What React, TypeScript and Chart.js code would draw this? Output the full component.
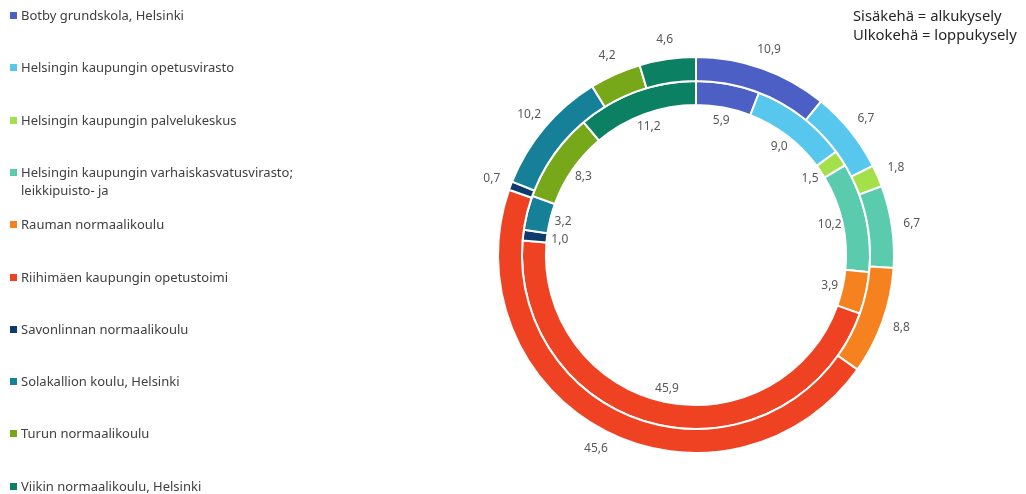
import React, { useEffect, useRef } from "react";
import { Chart, registerables } from "chart.js";

Chart.register(...registerables);

const categories = [
  "Botby grundskola, Helsinki",
  "Helsingin kaupungin opetusvirasto",
  "Helsingin kaupungin palvelukeskus",
  "Helsingin kaupungin varhaiskasvatusvirasto; leikkipuisto- ja",
  "Rauman normaalikoulu",
  "Riihimäen kaupungin opetustoimi",
  "Savonlinnan normaalikoulu",
  "Solakallion koulu, Helsinki",
  "Turun normaalikoulu",
  "Viikin normaalikoulu, Helsinki",
];

// Sisäkehä = alkukysely
const alkukysely = [5.9, 9.0, 1.5, 10.2, 3.9, 45.9, 1.0, 3.2, 8.3, 11.2];
// Ulkokehä = loppukysely
const loppukysely = [10.9, 6.7, 1.8, 6.7, 8.8, 45.6, 0.7, 10.2, 4.2, 4.6];

const colors = [
  "#4C5FC4",
  "#57C7EE",
  "#A3E04A",
  "#5BCBAE",
  "#F6821F",
  "#EE4222",
  "#0F3A6E",
  "#168098",
  "#76A81A",
  "#0B8063",
];

const noteLines = ["Sisäkehä = alkukysely", "Ulkokehä = loppukysely"];

const fmt = (v: number) => v.toFixed(1).replace(".", ",");

const ringLabels = {
  id: "ringLabels",
  afterDatasetsDraw(chart: any) {
    const ctx = chart.ctx;
    ctx.save();
    ctx.font = '12px "Noto Sans"';
    ctx.fillStyle = "#595959";
    ctx.textAlign = "center";
    ctx.textBaseline = "middle";
    chart.data.datasets.forEach((ds: any, di: number) => {
      const meta = chart.getDatasetMeta(di);
      meta.data.forEach((arc: any, i: number) => {
        const p = arc.getProps(
          ["x", "y", "startAngle", "endAngle", "innerRadius", "outerRadius"],
          true
        );
        const mid = (p.startAngle + p.endAngle) / 2;
        const r = di === 0 ? p.outerRadius + 20 : p.innerRadius - 13;
        ctx.fillText(
          fmt(ds.data[i]),
          p.x + Math.cos(mid) * r,
          p.y + Math.sin(mid) * r
        );
      });
    });
    ctx.restore();
  },
};

export default function App() {
  const canvasRef = useRef<HTMLCanvasElement | null>(null);

  useEffect(() => {
    if (!canvasRef.current) return;
    const chart = new Chart(canvasRef.current, {
      type: "doughnut",
      data: {
        labels: categories,
        datasets: [
          {
            label: "loppukysely",
            data: loppukysely,
            backgroundColor: colors,
            borderColor: "#ffffff",
            borderWidth: 2,
          },
          {
            label: "alkukysely",
            data: alkukysely,
            backgroundColor: colors,
            borderColor: "#ffffff",
            borderWidth: 2,
          },
        ],
      },
      options: {
        responsive: false,
        animation: false,
        cutout: "75.8%",
        layout: { padding: { left: 497, right: 131, top: 56, bottom: 40 } },
        plugins: {
          legend: { display: false },
          tooltip: { enabled: false },
        },
      },
      plugins: [ringLabels],
    });
    return () => chart.destroy();
  }, []);

  return (
    <div
      style={{
        position: "absolute",
        left: 0,
        top: 0,
        width: 1026,
        height: 494,
        background: "#ffffff",
        fontFamily: '"Noto Sans", sans-serif',
        overflow: "hidden",
      }}
    >
      <canvas
        ref={canvasRef}
        width={1026}
        height={494}
        style={{ position: "absolute", left: 0, top: 0, width: 1026, height: 494 }}
      />
      {categories.map((c, i) => (
        <div
          key={c}
          style={{
            position: "absolute",
            left: 10,
            top: 6 + i * 52.3,
            width: 290,
            fontSize: 13,
            lineHeight: "18px",
            color: "#404040",
          }}
        >
          <span
            style={{
              position: "absolute",
              left: 0,
              top: 6,
              width: 7,
              height: 7,
              background: colors[i],
            }}
          />
          <div style={{ marginLeft: 11, width: 275 }}>{c}</div>
        </div>
      ))}
      <div
        style={{
          position: "absolute",
          left: 853,
          top: 6,
          fontSize: 14.8,
          lineHeight: "19px",
          color: "#262626",
          whiteSpace: "nowrap",
        }}
      >
        {noteLines.map((l) => (
          <div key={l}>{l}</div>
        ))}
      </div>
    </div>
  );
}
